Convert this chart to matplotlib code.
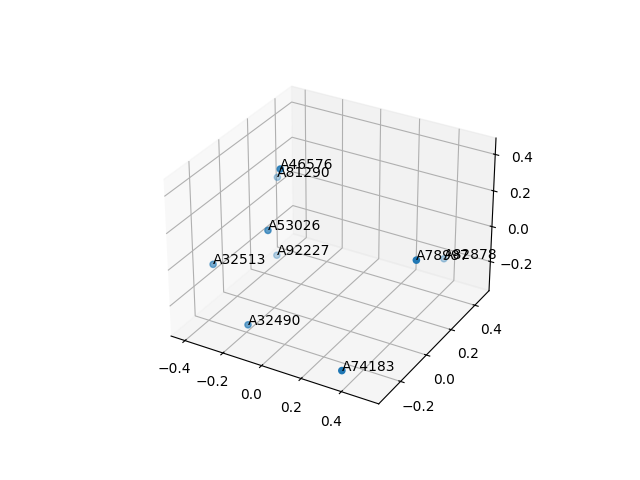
import matplotlib
matplotlib.use("Agg")
import matplotlib.pyplot as plt

# point ids and their 3d coordinates
labels = ["A46576", "A81290", "A53026", "A92227", "A32513",
          "A78997", "A82878", "A32490", "A74183"]
xs = [-0.143, -0.375, -0.183, -0.307, -0.407, 0.515, 0.378, -0.184, 0.364]
ys = [-0.019, 0.274, -0.058, 0.169, -0.150, 0.011, 0.467, -0.209, -0.307]
zs = [0.434, 0.146, 0.113, -0.214, -0.087, 0.126, -0.212, -0.315, -0.308]

fig = plt.figure(figsize=(6.4, 4.8), dpi=100)
ax = fig.add_subplot(111, projection="3d")
ax.scatter(xs, ys, zs)

for i in range(len(labels)):
    ax.text(xs[i], ys[i], zs[i], labels[i])

fig.savefig("out.png")
